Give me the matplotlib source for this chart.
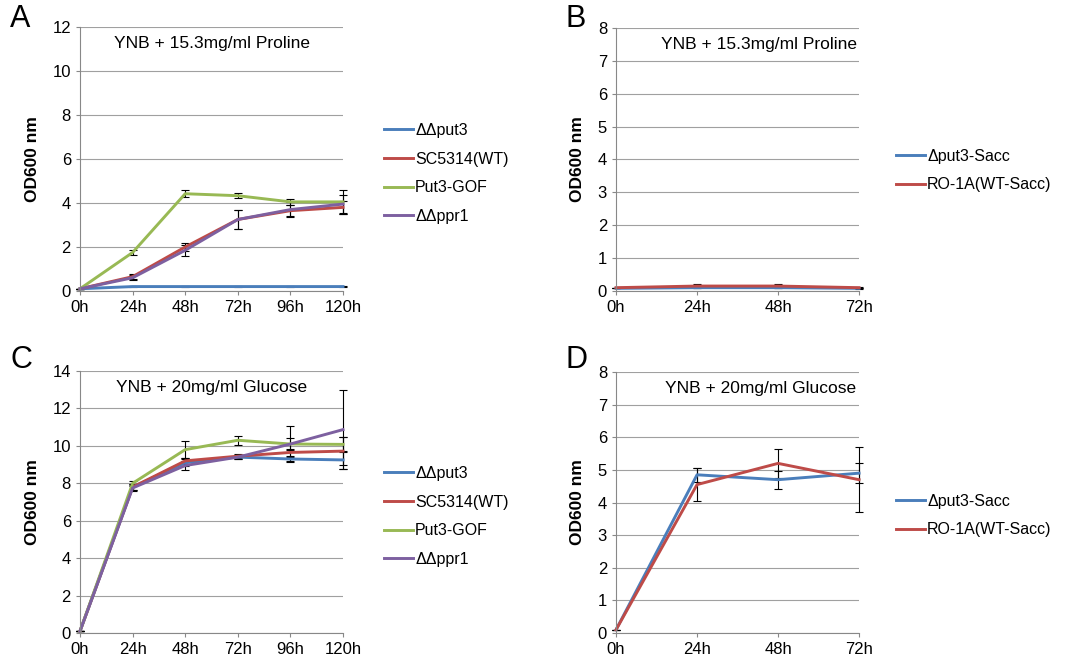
import matplotlib
matplotlib.use("Agg")
import matplotlib.pyplot as plt

plt.rcParams['font.family'] = ['Liberation Sans', 'DejaVu Sans']

# ---- data ----
hours_long = ["0h", "24h", "48h", "72h", "96h", "120h"]
hours_short = ["0h", "24h", "48h", "72h"]

albicans_names = ["ΔΔput3", "SC5314(WT)", "Put3-GOF", "ΔΔppr1"]
sacc_names = ["Δput3-Sacc", "RO-1A(WT-Sacc)"]

# A: YNB + proline, C. albicans
a_put3 = [0.1, 0.2, 0.2, 0.2, 0.2, 0.2]
a_wt = [0.1, 0.65, 2.0, 3.25, 3.65, 3.8]
a_gof = [0.1, 1.75, 4.42, 4.33, 4.05, 4.05]
a_ppr1 = [0.1, 0.6, 1.85, 3.25, 3.7, 3.95]
a_put3_err = [0, 0.02, 0.02, 0.02, 0.02, 0.02]
a_wt_err = [0, 0.1, 0.2, 0.45, 0.25, 0.3]
a_gof_err = [0, 0.12, 0.17, 0.12, 0.15, 0.55]
a_ppr1_err = [0, 0.12, 0.25, 0.45, 0.35, 0.4]

# B: YNB + proline, S. cerevisiae
b_put3 = [0.08, 0.1, 0.1, 0.08]
b_wt = [0.1, 0.15, 0.15, 0.1]
b_put3_err = [0, 0.02, 0.02, 0.01]
b_wt_err = [0, 0.05, 0.05, 0.01]

# C: YNB + glucose, C. albicans
c_put3 = [0.1, 7.8, 9.1, 9.4, 9.3, 9.25]
c_wt = [0.1, 7.8, 9.2, 9.45, 9.65, 9.72]
c_gof = [0.1, 8.0, 9.8, 10.3, 10.1, 10.08]
c_ppr1 = [0.1, 7.75, 8.95, 9.4, 10.1, 10.87]
c_put3_err = [0, 0.15, 0.2, 0.1, 0.1, 0.5]
c_wt_err = [0, 0.15, 0.15, 0.1, 0.2, 0.75]
c_gof_err = [0, 0.15, 0.45, 0.25, 0.3, 0.4]
c_ppr1_err = [0, 0.15, 0.25, 0.1, 0.95, 2.1]

# D: YNB + glucose, S. cerevisiae
d_put3 = [0.1, 4.85, 4.7, 4.9]
d_wt = [0.1, 4.55, 5.2, 4.7]
d_put3_err = [0, 0.22, 0.27, 0.3]
d_wt_err = [0, 0.5, 0.45, 1.0]

colors4 = ["#4A7EBB", "#BE4B48", "#98B954", "#7D60A0"]
colors2 = ["#4A7EBB", "#BE4B48"]


def draw(ax, labels, series, errs, colors, names, ymax, ystep, note, note_x, note_ha):
    x = list(range(len(labels)))
    for s, e, c, n in zip(series, errs, colors, names):
        cont = ax.errorbar(x, s, yerr=e, color=c, lw=2.1, label=n,
                           ecolor="black", elinewidth=0.8, capsize=3, capthick=0.8)
        # let the bars at the last time point spill over the axes edge
        cont.lines[0].set_clip_on(False)
        for art in list(cont.lines[1]) + list(cont.lines[2]):
            art.set_clip_on(False)
    ax.set_xlim(0, len(labels) - 1)
    ax.set_ylim(0, ymax)
    ax.set_yticks(range(0, ymax + 1, ystep))
    ax.set_xticks(x)
    ax.set_xticklabels(labels)
    ax.tick_params(labelsize=12, colors="#888888", labelcolor="black",
                   length=3, width=0.8)
    ax.grid(axis="y", color="#A0A0A0", lw=0.8)
    ax.set_axisbelow(True)
    for side in ["top", "right"]:
        ax.spines[side].set_visible(False)
    for side in ["left", "bottom"]:
        ax.spines[side].set_color("#888888")
        ax.spines[side].set_linewidth(0.8)
    ax.set_ylabel("OD600 nm", fontsize=12.5, fontweight="bold", labelpad=9)
    ax.text(note_x, 0.965, note, transform=ax.transAxes, ha=note_ha, va="top",
            fontsize=12.5)


fig = plt.figure(figsize=(10.71, 6.66), dpi=100)

axA = fig.add_axes([0.0747, 0.5631, 0.2456, 0.3964])
draw(axA, hours_long, [a_put3, a_wt, a_gof, a_ppr1],
     [a_put3_err, a_wt_err, a_gof_err, a_ppr1_err], colors4, albicans_names,
     12, 2, "YNB + 15.3mg/ml Proline", 0.5, "center")

axB = fig.add_axes([0.5752, 0.5631, 0.2269, 0.3949])
draw(axB, hours_short, [b_put3, b_wt], [b_put3_err, b_wt_err], colors2,
     sacc_names, 8, 1, "YNB + 15.3mg/ml Proline", 0.99, "right")

axC = fig.add_axes([0.0747, 0.0495, 0.2456, 0.3934])
draw(axC, hours_long, [c_put3, c_wt, c_gof, c_ppr1],
     [c_put3_err, c_wt_err, c_gof_err, c_ppr1_err], colors4, albicans_names,
     14, 2, "YNB + 20mg/ml Glucose", 0.5, "center")

axD = fig.add_axes([0.5752, 0.0495, 0.2269, 0.3919])
draw(axD, hours_short, [d_put3, d_wt], [d_put3_err, d_wt_err], colors2,
     sacc_names, 8, 1, "YNB + 20mg/ml Glucose", 0.99, "right")

# legends, frameless like the Excel originals
leg_kw = dict(frameon=False, fontsize=11.5, handlelength=1.8, handletextpad=0.15,
              borderpad=0, borderaxespad=0, loc="upper left")
for ax, anchor, spacing in [(axA, (384, 123), 0.85), (axB, (896, 149), 0.82),
                            (axC, (384, 466), 0.85), (axD, (896, 494), 0.82)]:
    h, l = ax.get_legend_handles_labels()
    h = [hh[0] for hh in h]
    ax.legend(h, l, bbox_to_anchor=(anchor[0] / 1071, 1 - anchor[1] / 666),
              bbox_transform=fig.transFigure, labelspacing=spacing, **leg_kw)

for letter, (px, py) in zip("ABCD", [(10, 4), (566, 4), (10, 345), (566, 345)]):
    fig.text(px / 1071, 1 - py / 666, letter, fontsize=22, va="top", ha="left")

fig.savefig("out.png", dpi=100)
